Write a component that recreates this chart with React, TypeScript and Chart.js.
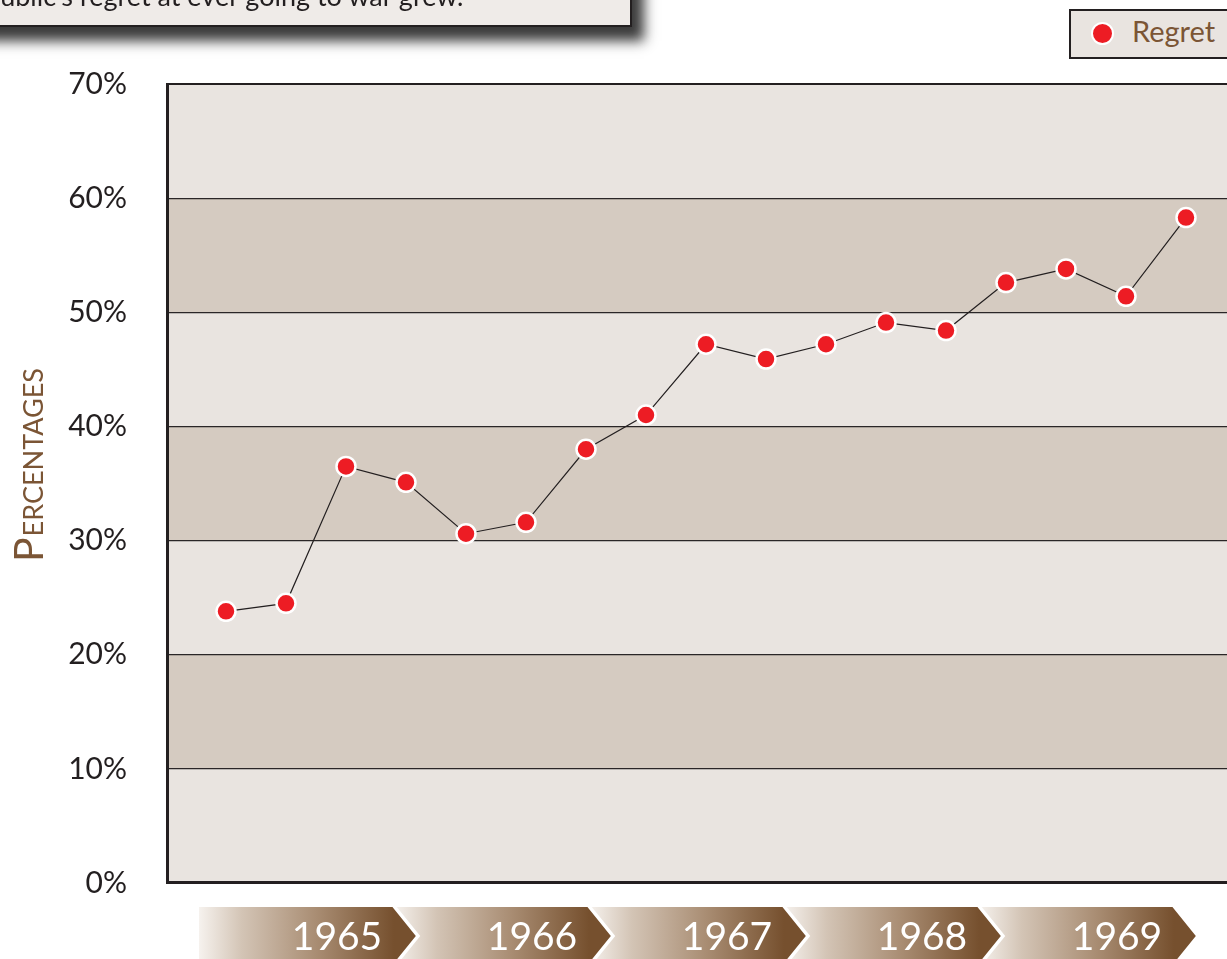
import React, { useEffect, useRef } from 'react';
import { Chart, registerables } from 'chart.js';

Chart.register(...registerables);

// ---- data ----
const regretValues = [23.8, 24.5, 36.5, 35.1, 30.6, 31.6, 38.0, 41.0, 47.2, 45.9, 47.2, 49.1, 48.4, 52.6, 53.8, 51.4, 58.3];
const yearLabels = ['1965', '1966', '1967', '1968', '1969'];
const yearTickValues = [1.85, 5.1, 8.35, 11.6, 14.85];
const yTickValues = [0, 10, 20, 30, 40, 50, 60, 70];
const seriesLabel = 'Regret';
const axisTitleFirst = 'P';
const axisTitleRest = 'ERCENTAGES';
const noteText = "public's regret at ever going to war grew.";

const LIGHT = '#e9e4e0';
const DARK = '#d5cbc1';
const INK = '#231f20';
const BROWN = '#7b5535';
const RED = '#ed1c24';
const FONT = 'Lato, "Open Sans", "DejaVu Sans", sans-serif';

const decorPlugin = {
  id: 'decor',
  beforeDraw(chart: any) {
    const { ctx, chartArea, scales } = chart;
    const x = scales.x;
    const y = scales.y;
    ctx.save();
    // alternating bands
    for (let i = 0; i < yTickValues.length - 1; i++) {
      const y0 = y.getPixelForValue(yTickValues[i]);
      const y1 = y.getPixelForValue(yTickValues[i + 1]);
      ctx.fillStyle = i % 2 === 1 ? DARK : LIGHT;
      ctx.fillRect(chartArea.left, y1, chartArea.right - chartArea.left, y0 - y1);
    }
    // year banners
    const centers = yearTickValues.map((v) => x.getPixelForValue(v));
    const step = centers[1] - centers[0];
    const top = chartArea.bottom + 24;
    const mid = top + 29;
    const bot = mid + 29;
    for (let k = centers.length - 1; k >= 0; k--) {
      const c = centers[k];
      const a = c + 57;
      const t = c + 81;
      const L = a - step;
      const g = ctx.createLinearGradient(L, 0, a, 0);
      g.addColorStop(0, '#f6f2ee');
      g.addColorStop(0.22, '#d3c4b5');
      g.addColorStop(0.6, '#a98d73');
      g.addColorStop(1, '#76502e');
      ctx.fillStyle = g;
      ctx.beginPath();
      ctx.moveTo(L, top);
      ctx.lineTo(a, top);
      ctx.lineTo(t, mid);
      ctx.lineTo(a, bot);
      ctx.lineTo(L, bot);
      ctx.closePath();
      ctx.fill();
      ctx.beginPath();
      ctx.moveTo(a - 1, top - 2);
      ctx.lineTo(t, mid);
      ctx.lineTo(a - 1, bot + 2);
      ctx.strokeStyle = '#ffffff';
      ctx.lineWidth = 3.5;
      ctx.stroke();
    }
    // axis title in small caps
    ctx.fillStyle = BROWN;
    ctx.textBaseline = 'alphabetic';
    ctx.textAlign = 'left';
    ctx.translate(43, 562);
    ctx.rotate(-Math.PI / 2);
    ctx.font = `41px ${FONT}`;
    ctx.fillText(axisTitleFirst, 0, 0);
    const w = ctx.measureText(axisTitleFirst).width;
    ctx.font = `27px ${FONT}`;
    ctx.fillText(axisTitleRest, w + 1, 0);
    ctx.restore();
  },
  afterDraw(chart: any) {
    const { ctx, chartArea } = chart;
    ctx.save();
    ctx.fillStyle = INK;
    ctx.fillRect(chartArea.left - 1, chartArea.top - 1, chartArea.right - chartArea.left + 2, 2);
    ctx.fillRect(chartArea.left - 1, chartArea.top - 1, 3, chartArea.bottom - chartArea.top + 2);
    ctx.fillRect(chartArea.left - 1, chartArea.bottom - 2, chartArea.right - chartArea.left + 2, 3);
    ctx.restore();
  },
};

export default function App() {
  const canvasRef = useRef<HTMLCanvasElement | null>(null);

  useEffect(() => {
    document.body.style.margin = '0';
    document.body.style.overflow = 'hidden';
    const canvas = canvasRef.current;
    if (!canvas) return;
    const chart = new Chart(canvas, {
      type: 'line',
      data: {
        datasets: [
          {
            label: seriesLabel,
            data: regretValues.map((v, i) => ({ x: i, y: v })),
            borderColor: INK,
            borderWidth: 1.2,
            tension: 0,
            pointRadius: 9.5,
            pointBackgroundColor: RED,
            pointBorderColor: '#ffffff',
            pointBorderWidth: 2.5,
          },
        ],
      },
      options: {
        responsive: false,
        animation: false,
        devicePixelRatio: 1,
        layout: { autoPadding: false, padding: { top: 84, left: 0, right: 0, bottom: 0 } },
        plugins: {
          legend: { display: false },
          tooltip: { enabled: false },
        },
        scales: {
          x: {
            type: 'linear',
            min: -0.9833,
            max: 16.6833,
            bounds: 'data',
            grid: { display: false },
            border: { display: false },
            afterBuildTicks: (scale: any) => {
              scale.ticks = yearTickValues.map((v) => ({ value: v }));
            },
            afterFit: (scale: any) => {
              scale.height = 76;
              scale.paddingLeft = 0;
              scale.paddingRight = 0;
            },
            ticks: {
              autoSkip: false,
              maxRotation: 0,
              color: '#ffffff',
              padding: 23,
              font: { family: FONT, size: 39 },
              callback: (_v: any, index: number) => yearLabels[index],
            },
          },
          y: {
            min: 0,
            max: 70,
            afterBuildTicks: (scale: any) => {
              scale.ticks = yTickValues.map((v) => ({ value: v }));
            },
            afterFit: (scale: any) => {
              scale.width = 167;
            },
            grid: { color: '#2a2627', lineWidth: 1.2, drawTicks: false },
            border: { display: false },
            ticks: {
              color: INK,
              padding: 40,
              font: { family: FONT, size: 30 },
              callback: (v: any) => `${v}%`,
            },
          },
        },
      },
      plugins: [decorPlugin],
    } as any);
    return () => chart.destroy();
  }, []);

  return (
    <div
      style={{
        position: 'absolute',
        left: 0,
        top: 0,
        width: 1227,
        height: 959,
        overflow: 'hidden',
        background: '#ffffff',
      }}
    >
      <canvas ref={canvasRef} width={1227} height={959} style={{ position: 'absolute', left: 0, top: 0 }} />
      <div
        style={{
          position: 'absolute',
          left: -30,
          top: -60,
          width: 662,
          height: 87,
          boxSizing: 'border-box',
          border: `2px solid ${INK}`,
          background: '#efebe8',
          boxShadow: '12px 14px 12px rgba(25,25,25,0.85)',
        }}
      >
        <span
          style={{
            position: 'absolute',
            left: 13,
            top: 40,
            whiteSpace: 'nowrap',
            font: `27px/27px ${FONT}`,
            color: INK,
          }}
        >
          {noteText}
        </span>
      </div>
      <div
        style={{
          position: 'absolute',
          left: 1069,
          top: 9,
          width: 190,
          height: 50,
          boxSizing: 'border-box',
          border: `2px solid ${INK}`,
          background: LIGHT,
        }}
      >
        <span
          style={{
            position: 'absolute',
            left: 20,
            top: 11,
            width: 23,
            height: 23,
            boxSizing: 'border-box',
            borderRadius: '50%',
            background: RED,
            border: '2.5px solid #ffffff',
          }}
        />
        <span
          style={{
            position: 'absolute',
            left: 61,
            top: 6,
            whiteSpace: 'nowrap',
            font: `29px/28px ${FONT}`,
            color: BROWN,
          }}
        >
          {seriesLabel}
        </span>
      </div>
    </div>
  );
}
